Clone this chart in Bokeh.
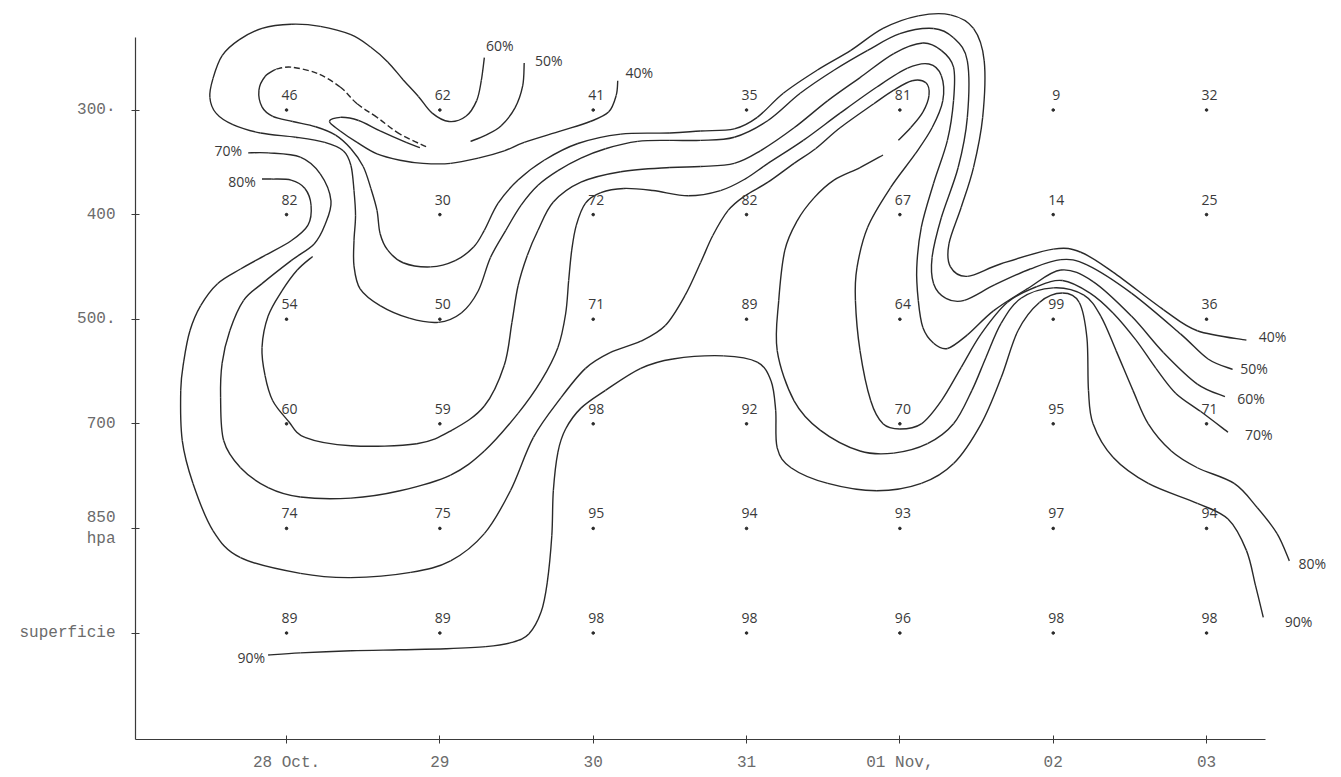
from bokeh.plotting import figure
from bokeh.models import Range1d, FixedTicker, ColumnDataSource
from bokeh.embed import file_html
from bokeh.resources import INLINE
from bokeh.core.properties import value

# ---------------- data ----------------
days = ["28 Oct.", "29", "30", "31", "01 Nov,", "02", "03"]
levels = ["300\u00b7", "400", "500.", "700", "850\nhpa", "superficie"]

rh_300 = [46, 62, 41, 35, 81, 9, 32]
rh_400 = [82, 30, 72, 82, 67, 14, 25]
rh_500 = [54, 50, 71, 89, 64, 99, 36]
rh_700 = [60, 59, 98, 92, 70, 95, 71]
rh_850 = [74, 75, 95, 94, 93, 97, 94]
rh_sfc = [89, 89, 98, 98, 96, 98, 98]

# hand-drawn isolines, traced as (day index, level index)
iso50_a = [(1.55, -0.45), (1.54, -0.23), (1.49, -0.02), (1.40, 0.15), (1.30, 0.24), (1.20, 0.30)]
iso50_b = [(0.91, 0.35), (0.74, 0.23), (0.59, 0.07), (0.46, -0.06), (0.35, -0.22), (0.20, -0.35),
           (0.03, -0.41), (-0.07, -0.39)]
iso50_c = [(-0.07, -0.39), (-0.14, -0.32), (-0.18, -0.19), (-0.16, -0.03), (-0.09, 0.06), (0.04, 0.11),
           (0.19, 0.16), (0.32, 0.24), (0.42, 0.37), (0.50, 0.54), (0.55, 0.75), (0.59, 0.96), (0.61, 1.18),
           (0.66, 1.34), (0.76, 1.46), (0.94, 1.50), (1.10, 1.44), (1.22, 1.31), (1.29, 1.15), (1.38, 0.89),
           (1.51, 0.67), (1.68, 0.48), (1.90, 0.32), (2.18, 0.23), (2.50, 0.22), (2.70, 0.20), (2.92, 0.18),
           (3.07, 0.07), (3.24, -0.16), (3.46, -0.38), (3.68, -0.57), (3.89, -0.78), (4.12, -0.90),
           (4.33, -0.91), (4.48, -0.78), (4.55, -0.47), (4.54, 0.07), (4.48, 0.55), (4.40, 0.93),
           (4.32, 1.28), (4.33, 1.50), (4.44, 1.59), (4.66, 1.47), (5.00, 1.33), (5.18, 1.36), (5.39, 1.55),
           (5.72, 1.91), (5.94, 2.11), (6.26, 2.20)]
iso40_top = [(2.16, -0.28), (2.15, -0.14), (2.10, 0.02), (1.98, 0.11), (1.79, 0.20), (1.55, 0.31),
             (1.42, 0.39), (1.25, 0.46), (1.07, 0.51), (0.89, 0.51), (0.74, 0.48), (0.59, 0.42),
             (0.46, 0.31), (0.35, 0.20), (0.28, 0.11), (0.35, 0.07), (0.47, 0.10), (0.61, 0.20),
             (0.78, 0.31), (0.87, 0.36)]
iso60_a = [(1.29, -0.50), (1.27, -0.28), (1.24, -0.09), (1.17, 0.06), (1.06, 0.11), (0.95, 0.03),
           (0.86, -0.13), (0.76, -0.29), (0.66, -0.46), (0.55, -0.60), (0.42, -0.72), (0.22, -0.80),
           (0.03, -0.82), (-0.16, -0.78), (-0.31, -0.67), (-0.42, -0.52), (-0.48, -0.30), (-0.50, -0.12),
           (-0.46, 0.03), (-0.35, 0.14), (-0.17, 0.22), (0.06, 0.26), (0.25, 0.31), (0.37, 0.39),
           (0.42, 0.53), (0.44, 0.77), (0.45, 1.01), (0.44, 1.25), (0.44, 1.49), (0.48, 1.71), (0.61, 1.87),
           (0.80, 1.99), (0.99, 2.03), (1.14, 1.94), (1.25, 1.73), (1.33, 1.41), (1.43, 1.15), (1.53, 0.91),
           (1.64, 0.72), (1.77, 0.58), (1.92, 0.46), (2.08, 0.37), (2.29, 0.30), (2.50, 0.29), (2.70, 0.29),
           (2.92, 0.26), (3.14, 0.10), (3.35, -0.16), (3.57, -0.38), (3.79, -0.57), (4.00, -0.73),
           (4.22, -0.78), (4.35, -0.69), (4.44, -0.47), (4.44, 0.07), (4.38, 0.55), (4.27, 1.03),
           (4.21, 1.41), (4.22, 1.66), (4.30, 1.80), (4.42, 1.82), (4.62, 1.67), (4.85, 1.52), (5.05, 1.43),
           (5.22, 1.48), (5.51, 1.75), (5.83, 2.14), (6.01, 2.38), (6.17, 2.48)]
iso60_b = [(0.17, 1.40), (0.07, 1.53), (-0.03, 1.73), (-0.12, 1.97), (-0.16, 2.27), (-0.14, 2.54),
           (-0.09, 2.78), (0.01, 2.97), (0.12, 3.13), (0.42, 3.21), (0.85, 3.19), (1.08, 3.06), (1.29, 2.83),
           (1.42, 2.44), (1.47, 2.03), (1.51, 1.68), (1.57, 1.39), (1.64, 1.15), (1.74, 0.88), (1.92, 0.69),
           (2.18, 0.59), (2.50, 0.55), (2.70, 0.54), (2.92, 0.51), (3.09, 0.39), (3.31, 0.17), (3.53, -0.09),
           (3.74, -0.31), (3.96, -0.54), (4.15, -0.64), (4.27, -0.57), (4.35, -0.41), (4.35, -0.09),
           (4.31, 0.29), (4.22, 0.70), (4.14, 1.12), (4.11, 1.51), (4.12, 1.82), (4.15, 2.08), (4.22, 2.23),
           (4.31, 2.28), (4.44, 2.15), (4.61, 1.92), (4.83, 1.71), (5.05, 1.53), (5.26, 1.64), (5.51, 1.97),
           (5.72, 2.32), (5.94, 2.62), (6.12, 2.74)]
iso70 = [(-0.25, 0.41), (-0.12, 0.41), (0.09, 0.45), (0.22, 0.61), (0.29, 0.87), (0.25, 1.10), (0.18, 1.28),
         (0.03, 1.44), (-0.16, 1.66), (-0.28, 1.82), (-0.37, 2.11), (-0.42, 2.42), (-0.43, 2.75),
         (-0.41, 3.16), (-0.30, 3.42), (-0.12, 3.61), (0.09, 3.70), (0.42, 3.71), (0.74, 3.64), (1.07, 3.49),
         (1.29, 3.26), (1.51, 2.90), (1.66, 2.59), (1.77, 2.27), (1.82, 1.95), (1.84, 1.63), (1.86, 1.34),
         (1.89, 1.10), (1.95, 0.89), (2.05, 0.79), (2.20, 0.75), (2.39, 0.77), (2.62, 0.82), (2.83, 0.77),
         (2.99, 0.66), (3.14, 0.51), (3.37, 0.29), (3.61, 0.03), (3.85, -0.22), (4.05, -0.40),
         (4.19, -0.44), (4.27, -0.33), (4.28, -0.09), (4.21, 0.17), (4.10, 0.42), (3.94, 0.74),
         (3.79, 1.12), (3.72, 1.51), (3.71, 1.82), (3.74, 2.30), (3.81, 2.78), (3.89, 3.00), (4.00, 3.05),
         (4.14, 3.00), (4.27, 2.78), (4.40, 2.46), (4.53, 2.14), (4.70, 1.84), (4.89, 1.69), (5.06, 1.63),
         (5.24, 1.75), (5.39, 1.94), (5.54, 2.20), (5.67, 2.47), (5.80, 2.71), (5.96, 2.88), (6.14, 3.08)]
iso80_a = [(-0.16, 0.66), (-0.10, 0.66), (0.03, 0.67), (0.12, 0.75), (0.16, 0.91), (0.14, 1.10),
           (0.03, 1.25), (-0.14, 1.39), (-0.30, 1.52), (-0.45, 1.66), (-0.56, 1.87), (-0.63, 2.11),
           (-0.67, 2.40), (-0.69, 2.68), (-0.68, 3.16), (-0.61, 3.57), (-0.48, 4.02), (-0.30, 4.28),
           (0.09, 4.43), (0.42, 4.47), (0.81, 4.42), (1.07, 4.31), (1.29, 4.05), (1.46, 3.64), (1.61, 3.13),
           (1.79, 2.75), (1.95, 2.47), (2.11, 2.32), (2.31, 2.21), (2.47, 2.06), (2.60, 1.77), (2.70, 1.46),
           (2.78, 1.20), (2.88, 0.96), (2.99, 0.82), (3.14, 0.69), (3.31, 0.51), (3.45, 0.37), (3.61, 0.17),
           (3.83, -0.06), (3.96, -0.19), (4.08, -0.28), (4.17, -0.26), (4.19, -0.14), (4.15, 0.02),
           (4.07, 0.17), (3.99, 0.29)]
iso80_b = [(3.89, 0.43), (3.74, 0.55), (3.57, 0.67), (3.44, 0.84), (3.33, 1.06), (3.25, 1.34), (3.21, 1.82),
           (3.20, 2.30), (3.31, 2.78), (3.48, 3.06), (3.74, 3.26), (3.96, 3.28), (4.18, 3.19), (4.35, 3.00),
           (4.47, 2.68), (4.56, 2.37), (4.66, 2.04), (4.79, 1.80), (5.00, 1.70), (5.20, 1.77), (5.31, 1.97),
           (5.41, 2.30), (5.52, 2.68), (5.62, 3.00), (5.77, 3.26), (5.94, 3.42), (6.18, 3.57), (6.33, 3.80),
           (6.46, 4.05), (6.54, 4.31)]
iso90 = [(-0.12, 5.21), (0.09, 5.19), (0.42, 5.17), (0.74, 5.16), (1.04, 5.15), (1.30, 5.13), (1.47, 5.09),
         (1.58, 5.01), (1.66, 4.80), (1.70, 4.52), (1.73, 4.07), (1.74, 3.64), (1.77, 3.27), (1.82, 3.05),
         (1.92, 2.85), (2.08, 2.68), (2.31, 2.47), (2.52, 2.38), (2.85, 2.35), (3.07, 2.41), (3.16, 2.59),
         (3.19, 2.87), (3.20, 3.23), (3.29, 3.42), (3.53, 3.57), (3.85, 3.64), (4.14, 3.57), (4.35, 3.38),
         (4.53, 3.00), (4.66, 2.56), (4.77, 2.11), (4.91, 1.84), (5.06, 1.75), (5.17, 1.84), (5.22, 2.18),
         (5.23, 2.68), (5.26, 3.00), (5.39, 3.32), (5.62, 3.57), (5.94, 3.76), (6.14, 3.91), (6.26, 4.21),
         (6.32, 4.55), (6.37, 4.85)]

iso_label_text = ["60%", "50%", "40%", "70%", "80%", "90%", "40%", "50%", "60%", "70%", "80%", "90%"]
iso_label_x = [1.39, 1.71, 2.30, -0.38, -0.29, -0.23, 6.43, 6.31, 6.29, 6.34, 6.69, 6.60]
iso_label_y = [-0.62, -0.47, -0.36, 0.39, 0.68, 5.23, 2.17, 2.47, 2.76, 3.10, 4.34, 4.89]

# ---------------- figure ----------------
INK = "#2a2a2a"
TYPE = "#6b6b6b"
HAND_FONT = "Open Sans"

p = figure(width=1335, height=775,
           x_range=Range1d(-0.985, 6.841), y_range=Range1d(6.018, -1.047),
           output_backend="svg", toolbar_location=None,
           min_border_left=135, min_border_right=0, min_border_top=0, min_border_bottom=36)
p.outline_line_color = None
p.grid.visible = False
p.background_fill_color = "white"
p.border_fill_color = "white"

xa = p.xaxis[0]
xa.ticker = FixedTicker(ticks=list(range(len(days))))
xa.major_label_overrides = {i: d for i, d in enumerate(days)}
xa.bounds = (-0.985, 6.385)
ya = p.yaxis[0]
ya.ticker = FixedTicker(ticks=list(range(len(levels))))
ya.major_label_overrides = {i: l for i, l in enumerate(levels)}
ya.bounds = (-0.693, 6.018)
for ax in (xa, ya):
    ax.axis_line_color = "#3a3a3a"
    ax.axis_line_width = 1.2
    ax.major_tick_line_color = "#3a3a3a"
    ax.major_tick_in = 4
    ax.major_tick_out = 4
    ax.minor_tick_line_color = None
    ax.major_label_text_font = "Liberation Mono"
    ax.major_label_text_font_size = "16px"
    ax.major_label_text_color = TYPE
xa.major_label_standoff = 10
ya.major_label_standoff = 16


def bezier_source(pts):
    d = dict(x0=[], y0=[], x1=[], y1=[], cx0=[], cy0=[], cx1=[], cy1=[])
    n = len(pts)
    for k in range(n - 1):
        q0 = pts[k - 1] if k > 0 else pts[k]
        q1, q2 = pts[k], pts[k + 1]
        q3 = pts[k + 2] if k + 2 < n else pts[k + 1]
        d["x0"].append(q1[0]); d["y0"].append(q1[1])
        d["x1"].append(q2[0]); d["y1"].append(q2[1])
        d["cx0"].append(q1[0] + (q2[0] - q0[0]) / 6); d["cy0"].append(q1[1] + (q2[1] - q0[1]) / 6)
        d["cx1"].append(q2[0] - (q3[0] - q1[0]) / 6); d["cy1"].append(q2[1] - (q3[1] - q1[1]) / 6)
    return ColumnDataSource(d)


for line, dash in [(iso50_a, "solid"), (iso50_b, "6 3"), (iso50_c, "solid"), (iso40_top, "solid"),
                   (iso60_a, "solid"), (iso60_b, "solid"), (iso70, "solid"), (iso80_a, "solid"),
                   (iso80_b, "solid"), (iso90, "solid")]:
    p.bezier(x0="x0", y0="y0", x1="x1", y1="y1", cx0="cx0", cy0="cy0", cx1="cx1", cy1="cy1",
             source=bezier_source(line), line_color=INK, line_width=1.4, line_dash=dash)

# station values
rows = [rh_300, rh_400, rh_500, rh_700, rh_850, rh_sfc]
vx, vy, vt = [], [], []
for j, row in enumerate(rows):
    for i, v in enumerate(row):
        vx.append(i); vy.append(j); vt.append(str(v))
vsrc = ColumnDataSource(dict(x=vx, y=vy, t=vt))
p.scatter(x="x", y="y", source=vsrc, size=2.6, color=INK)
p.text(x="x", y="y", text="t", source=vsrc, x_offset=3, y_offset=-15,
       text_align="center", text_baseline="middle", text_font=value(HAND_FONT),
       text_font_size="14px", text_color="#3a3a3a")

# isoline labels
p.text(x=iso_label_x, y=iso_label_y, text=iso_label_text, text_align="center", text_baseline="middle",
       text_font=value(HAND_FONT), text_font_size="14px", text_color="#3a3a3a")

open("out.html", "w").write(file_html(p, INLINE))
